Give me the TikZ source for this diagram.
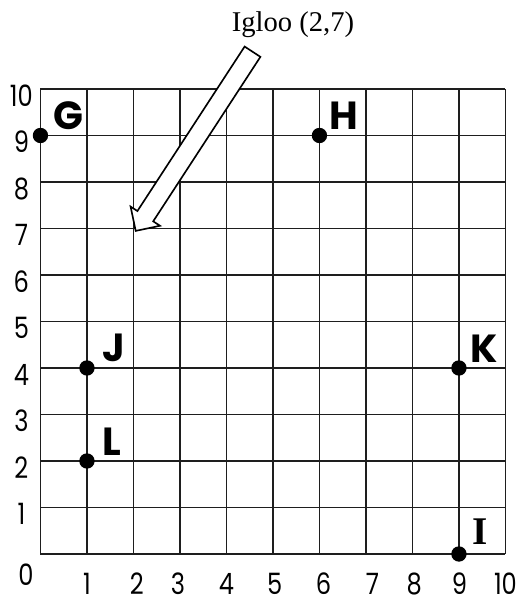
\documentclass[tikz,border=0pt]{standalone}
\usepackage{fontspec}
\setmainfont{Liberation Serif}
\setsansfont{Poppins}
\newfontfamily\axfont[FakeStretch=0.82]{Poppins}
\usetikzlibrary{positioning,shapes.arrows,calc}
\definecolor{cInk}{HTML}{000000}
\definecolor{cGrid}{HTML}{1E1E1E}
\tikzset{
  font=\sffamily,
  gridl/.style={draw=cGrid, line width=0.8pt},
  ptdot/.style={circle, fill=cInk, draw=none, minimum size=3.3mm, inner sep=0pt},
  ptlab/.style={font=\sffamily\bfseries\fontsize{24}{24}\selectfont, inner sep=0pt, text=cInk},
  axlab/.style={font=\axfont\fontsize{18}{18}\selectfont, inner sep=0pt, text=cInk},
  pointer/.style={single arrow, draw=cInk, fill=white, line width=1pt, inner sep=1.85mm,
    single arrow head extend=1.75mm, single arrow tip angle=90, minimum height=46mm},
}
\begin{document}
\begin{tikzpicture}[node distance=1.5mm]
\useasboundingbox (-0.870,-0.925) rectangle (10.344,11.914);
\draw[gridl] (0,0) grid (10,10);
% axis numbers
\node[axlab] (x0) at (-0.31,-0.45) {0};
\foreach \k/\xp in {1/1.0,2/2.07,3/2.96,4/4.0,5/5.04,6/6.09,7/7.14,8/8.04,9/9.01,10/10.0}
  \node[axlab] (x\k) at (\xp,-0.64) {\k};
\foreach \k in {1,...,10}
  \node[axlab] (y\k) at (-0.41,\k-0.14) {\k};
% points
\node[ptdot] (G) at (0,9) {};
\node[ptdot] (H) at (6,9) {};
\node[ptdot] (J) at (1,4) {};
\node[ptdot] (L) at (1,2) {};
\node[ptdot] (K) at (9,4) {};
\node[ptdot] (I) at (9,0) {};
\node[ptlab, above right=0mm and 1.5mm of G] (Glab) {G};
\node[ptlab, above right=0mm and 0.8mm of H] (Hlab) {H};
\node[ptlab, above right=0mm and 2mm of J] (Jlab) {J};
\node[ptlab, above right=0mm and 1.2mm of K] (Klab) {K};
\node[ptlab, above right=0mm and 2mm of L] (Llab) {L};
\node[ptlab, font=\rmfamily\bfseries\fontsize{24}{24}\selectfont, above right=0.8mm and 1.6mm of I] (Ilab) {I};
% igloo
\node[font=\rmfamily\fontsize{17.5}{17.5}\selectfont, inner sep=0pt] (igloo) at (5.43,11.38) {Igloo (2,7)};
\coordinate (iglootip) at (2.1,7.03);
\coordinate (iglootail) at (4.62,10.89);
\node[pointer, rotate=236.9] (arr) at ($(iglootip)!0.5!(iglootail)$) {};
\end{tikzpicture}
\end{document}
